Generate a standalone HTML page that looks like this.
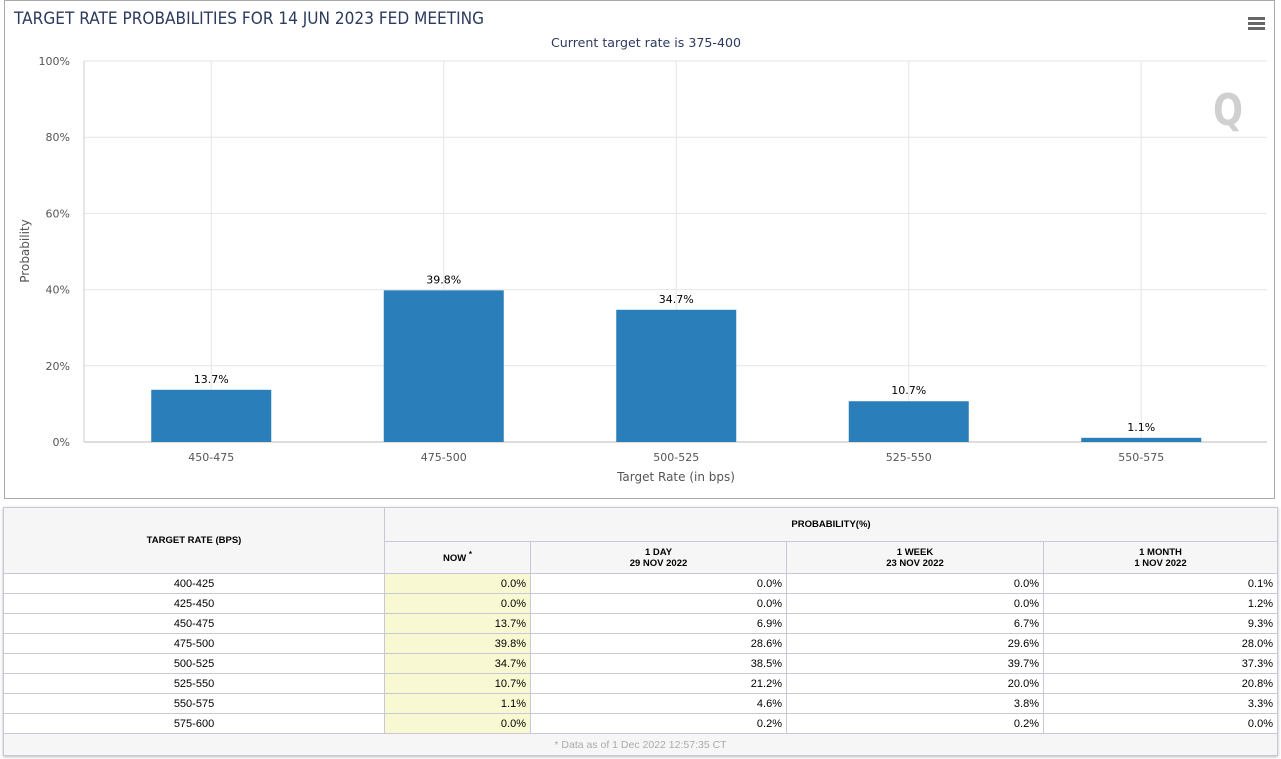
<!DOCTYPE html>
<html><head><meta charset="utf-8"><style>
body{margin:0;width:1281px;height:759px;background:#fff;font-family:"DejaVu Sans","Liberation Sans",sans-serif;overflow:hidden;position:relative}
#chartbox{position:absolute;left:4px;top:0;width:1271px;height:499px;border:1px solid #aaa;box-sizing:border-box}
table{position:absolute;left:3px;top:507px;width:1275px;border-collapse:collapse;font-family:"Liberation Sans",sans-serif;font-size:11px;color:#000;box-shadow:0 1px 3px #bbb}
td,th{border:1px solid #c8c8d8;padding:0 4px;height:19px}
th{background:#f6f6f6;font-size:9.5px;font-weight:bold}
td.c{text-align:center} td.r{text-align:right}
td.now{background:#f8f8d2}
td.foot{background:#f6f6f6;color:#aaa;text-align:center;font-size:10.5px;height:21px}
</style></head><body>
<div id="chartbox"></div>
<svg id="chart" width="1281" height="500" style="position:absolute;left:0;top:0"></svg>
<table>
<tr style="height:34px"><th rowspan="2" style="width:372px">TARGET RATE (BPS)</th><th colspan="4">PROBABILITY(%)</th></tr>
<tr style="height:32px"><th style="width:137px">NOW <sup>*</sup></th><th style="width:247px">1 DAY<br>29 NOV 2022</th><th style="width:248px">1 WEEK<br>23 NOV 2022</th><th>1 MONTH<br>1 NOV 2022</th></tr>
<tbody id="tb"></tbody>
<tr><td colspan="5" class="foot">* Data as of 1 Dec 2022 12:57:35 CT</td></tr>
</table>
<script>
const categories=["450-475","475-500","500-525","525-550","550-575"];
const values=[13.7,39.8,34.7,10.7,1.1];
const yTicks=[0,20,40,60,80,100];
const tableRates=["400-425","425-450","450-475","475-500","500-525","525-550","550-575","575-600"];
const nowVals=[0.0,0.0,13.7,39.8,34.7,10.7,1.1,0.0];
const dayVals=[0.0,0.0,6.9,28.6,38.5,21.2,4.6,0.2];
const weekVals=[0.0,0.0,6.7,29.6,39.7,20.0,3.8,0.2];
const monthVals=[0.1,1.2,9.3,28.0,37.3,20.8,3.3,0.0];

const NS="http://www.w3.org/2000/svg";
const svg=document.getElementById('chart');
const L=95,STEP=232.5,TOP=61,BOT=442;
const y=v=>BOT-(BOT-TOP)*v/100;
const xc=i=>L+STEP*(i+0.5);
function mk(t,a,txt){const e=document.createElementNS(NS,t);for(const k in a)e.setAttribute(k,a[k]);if(txt!==undefined)e.textContent=txt;svg.appendChild(e);return e;}
let e;
e=mk('text',{x:14,y:24,'font-size':17,fill:'#2b3a5e',textLength:470,lengthAdjust:'spacingAndGlyphs'},'TARGET RATE PROBABILITIES FOR 14 JUN 2023 FED MEETING');

e=mk('text',{x:646,y:47,'font-size':12,fill:'#2b3a5e','text-anchor':'middle',textLength:190,lengthAdjust:'spacingAndGlyphs'},'Current target rate is 375-400');

e=mk('g',{fill:'#666'});e.innerHTML='<rect x="1248" y="17" width="17" height="3"/><rect x="1248" y="22" width="17" height="3"/><rect x="1248" y="27" width="17" height="3"/>';

yTicks.forEach(t=>{
 const g=mk('line',{x1:84,x2:1267,y1:y(t),y2:y(t),stroke:t===0?'#bbb':'#e6e6e6'});
 
 const tx=mk('text',{x:70,y:y(t)+4,'font-size':11,fill:'#555','text-anchor':'end'},t+'%');
 
});
e=mk('line',{x1:84,x2:84,y1:TOP,y2:BOT,stroke:'#ccc'});
categories.forEach((c,i)=>{
 const g=mk('line',{x1:xc(i),x2:xc(i),y1:TOP,y2:BOT,stroke:'#e6e6e6'});
 
});
e=mk('text',{x:1228,y:125,'font-size':44,'font-weight':'bold',fill:'#d0d0d0','text-anchor':'middle',textLength:30,lengthAdjust:'spacingAndGlyphs'},'Q');

categories.forEach((c,i)=>{
 const r=mk('rect',{x:xc(i)-60,y:y(values[i]),width:120,height:BOT-y(values[i]),fill:'#2a7fba'});
 
 const v=mk('text',{x:xc(i),y:y(values[i])-7,'font-size':11,fill:'#000','text-anchor':'middle'},values[i].toFixed(1)+'%');
 
 const l=mk('text',{x:xc(i),y:461,'font-size':11,fill:'#555','text-anchor':'middle'},c);
 
});
e=mk('text',{x:676,y:481,'font-size':12,fill:'#555','text-anchor':'middle'},'Target Rate (in bps)');

e=mk('text',{x:0,y:0,'font-size':12,fill:'#555','text-anchor':'middle',transform:'translate(29,251) rotate(-90)'},'Probability');


const tb=document.getElementById('tb');
tableRates.forEach((r,i)=>{
 const tr=document.createElement('tr');
 
 
 tr.innerHTML='<td class="c">'+r+'</td><td class="r now">'+nowVals[i].toFixed(1)+'%</td><td class="r">'+dayVals[i].toFixed(1)+'%</td><td class="r">'+weekVals[i].toFixed(1)+'%</td><td class="r">'+monthVals[i].toFixed(1)+'%</td>';
 tb.appendChild(tr);
});
</script>
</body></html>
